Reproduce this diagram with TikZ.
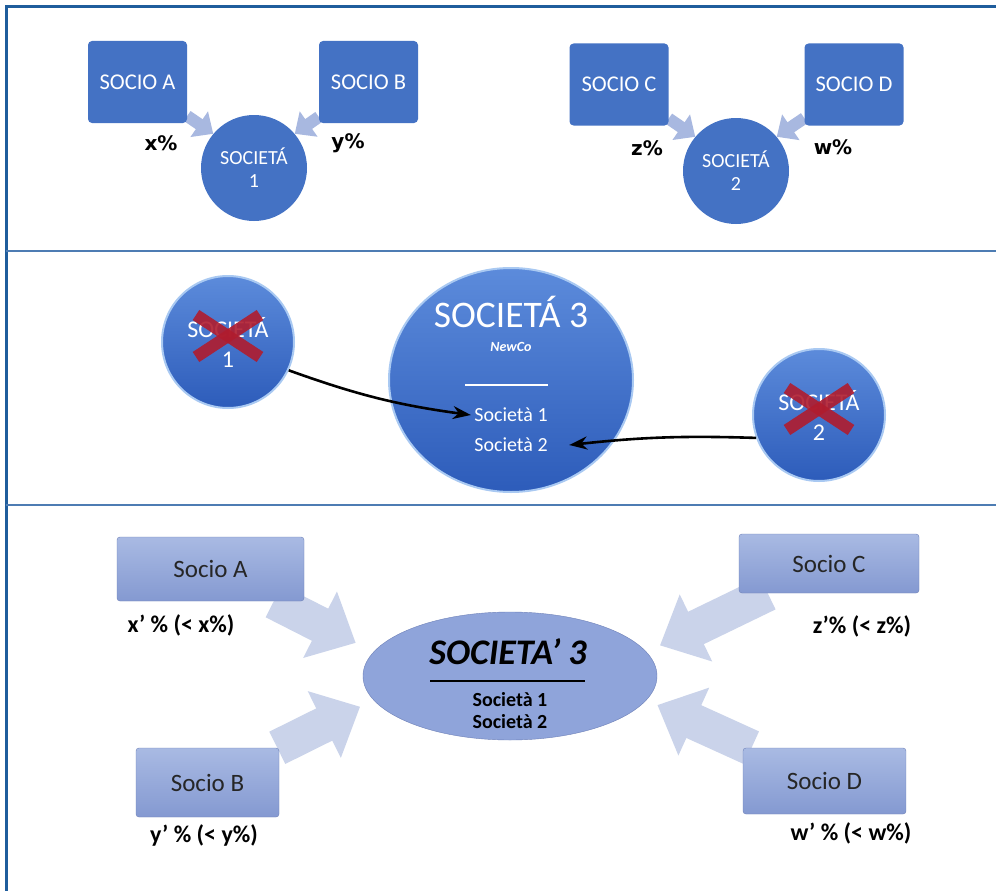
\documentclass[tikz,border=0pt]{standalone}
\usepackage{fontspec}
\setmainfont{Carlito}
\newfontfamily\pctfont{DejaVu Sans}
\usetikzlibrary{arrows.meta,backgrounds,calc,shapes.geometric,positioning}

\definecolor{boxblue}{HTML}{4472C4}
\definecolor{lightarr}{HTML}{A8B8E0}
\definecolor{framebl}{HTML}{1F5D9C}
\definecolor{linebl}{HTML}{4D7CB3}
\definecolor{crossred}{HTML}{B01C2E}
\definecolor{glasstop}{HTML}{5C8BDB}
\definecolor{glassbot}{HTML}{2D5CBA}
\definecolor{glassrim}{HTML}{A9C9F2}
\definecolor{softtop}{HTML}{A9BAE3}
\definecolor{softbot}{HTML}{8499D1}
\definecolor{softdraw}{HTML}{6E81B8}
\definecolor{ovalfill}{HTML}{8FA4DA}
\definecolor{bigarrc}{HTML}{CAD3EA}
\definecolor{darktxt}{HTML}{262626}

\begin{document}
\begin{tikzpicture}[x=1pt, y=-1pt,
    sociobox/.style  = {fill=boxblue, rounded corners=4pt, minimum width=99pt,
                        minimum height=82pt, text=white, font=\fontsize{22.5}{26}\selectfont},
    socround/.style  = {circle, fill=boxblue, minimum size=106pt, align=center,
                        text=white, font=\fontsize{20}{23}\selectfont},
    pct/.style       = {font=\pctfont\bfseries\fontsize{20}{22}\selectfont},
    smallarr/.style  = {lightarr, line width=12pt, -{Triangle[width=30pt,length=17pt]}},
    glassball/.style = {circle, minimum size=132pt, top color=glasstop, bottom color=glassbot,
                        draw=glassrim, line width=2pt, align=center, text=white,
                        font=\fontsize{24}{30}\selectfont},
    bigball/.style   = {ellipse, minimum width=244pt, minimum height=224pt, top color=glasstop,
                        bottom color=glassbot, draw=glassrim, line width=2pt},
    crossx/.style    = {crossred, line width=12pt, opacity=.9},
    curvarr/.style   = {black, line width=2.6pt, -{Stealth[length=18pt,width=13pt]}},
    softbox/.style   = {rounded corners=3pt, top color=softtop, bottom color=softbot,
                        draw=softdraw, text=darktxt, font=\fontsize{25}{28}\selectfont},
    oval/.style      = {ellipse, minimum width=294pt, minimum height=128pt, fill=ovalfill,
                        draw=softdraw},
    bigarr/.style    = {bigarrc, line width=36pt, -{Triangle[width=72pt,length=40pt]}},
    share/.style     = {text=black, font=\bfseries\fontsize{24}{28}\selectfont},
  ]
  \useasboundingbox (0,0) rectangle (996,891);
  \begin{scope}[on background layer]
    \fill[white] (0,0) rectangle (996,891);
  \end{scope}

  % --- prima: due società separate
  \node[sociobox] (sa) at (137.5,82) {SOCIO A};
  \node[sociobox] (sb) at (368.5,82) {SOCIO B};
  \node[sociobox] (sc) at (619,84.5) {SOCIO C};
  \node[sociobox] (sd) at (854,84.5) {SOCIO D};
  \node[socround] (s1) at (254,168) {SOCIETÁ\\1};
  \node[socround] (s2) at (736,171) {SOCIETÁ\\2};
  \node[pct] (px) at (161,143) {x\%};
  \node[pct] (py) at (348,143) {y\%};
  \node[pct] (pz) at (647,148) {z\%};
  \node[pct] (pw) at (833,147) {w\%};
  \begin{scope}[on background layer]
    \foreach \a/\b/\t in {sa/s1/140, sb/s1/40, sc/s2/140, sd/s2/40}
      \draw[smallarr] (\a) -- (\b.\t);
  \end{scope}

  % --- fusione nella NewCo
  \node[glassball] (m1) at (228,342) {SOCIETÁ\\1};
  \node[glassball] (m2) at (819,415) {SOCIETÁ\\2};
  \node[bigball] (s3) at (511,380) {};
  \node[text=white, inner sep=0pt, anchor=base, font=\fontsize{37.5}{42}\selectfont] (s3t) at (511,327) {SOCIETÁ 3};
  \node[text=white, inner sep=0pt, anchor=base, font=\bfseries\itshape\fontsize{14}{16}\selectfont] (newco) at (511,351) {NewCo};
  \draw[white, line width=1.2pt] (465,385) -- (548,385);
  \node[text=white, font=\fontsize{20}{22}\selectfont] (t1) at (511,415) {Società 1};
  \node[text=white, font=\fontsize{20}{22}\selectfont] (t2) at (511,445) {Società 2};
  \foreach \c in {m1,m2}
  {
    \draw[crossx] ($(\c)+(-32,-27)$) -- ($(\c)+(32,15)$);
    \draw[crossx] ($(\c)+(32,-27)$) -- ($(\c)+(-32,15)$);
  }
  \draw[curvarr] (m1.-25) to[bend right=6] (t1.west);
  \draw[curvarr] (m2.200) to[bend right=4] ([xshift=18pt]t2.east);

  % --- dopo: quote dei soci nella Società 3
  \node[softbox, minimum width=187pt, minimum height=64pt] (pa) at (210.5,569) {Socio A};
  \node[softbox, minimum width=143pt, minimum height=69pt] (pb) at (207.5,782.5) {Socio B};
  \node[softbox, minimum width=180pt, minimum height=59pt] (pc) at (829,563.5) {Socio C};
  \node[softbox, minimum width=163pt, minimum height=66pt] (pd) at (824.5,781) {Socio D};
  \node[oval] (e3) at (510,676) {};
  \node[font=\bfseries\itshape\fontsize{36}{40}\selectfont] (e3t) at (508,652) {SOCIETA’ 3};
  \draw[line width=1.5pt] (430,681) -- (585,681);
  \node[font=\bfseries\fontsize{20}{22}\selectfont] (u1) at (510,700) {Società 1};
  \node[font=\bfseries\fontsize{20}{22}\selectfont] (u2) at (510,722) {Società 2};
  \node[share] (lx) at (181,625) {x’ \% (< x\%)};
  \node[share] (ly) at (204,835) {y’ \% (< y\%)};
  \node[share] (lz) at (862,626) {z’\% (< z\%)};
  \node[share] (lw) at (851,833) {w’ \% (< w\%)};
  \begin{scope}[on background layer]
    \draw[bigarr, shorten >=20pt] (pa) -- (e3.170);
    \draw[bigarr, shorten >=15pt] (pb) -- (e3.190);
    \draw[bigarr, shorten >=15pt] (pc) -- (e3.10);
    \draw[bigarr, shorten >=12pt] (pd) -- (e3.-10);
  \end{scope}

  % cornice e separatori
  \draw[framebl, line width=3pt] (6,891) -- (6,7) -- (996,7);
  \draw[linebl, line width=2pt] (6,251) -- (996,251);
  \draw[linebl, line width=2pt] (6,505) -- (996,505);
\end{tikzpicture}
\end{document}
